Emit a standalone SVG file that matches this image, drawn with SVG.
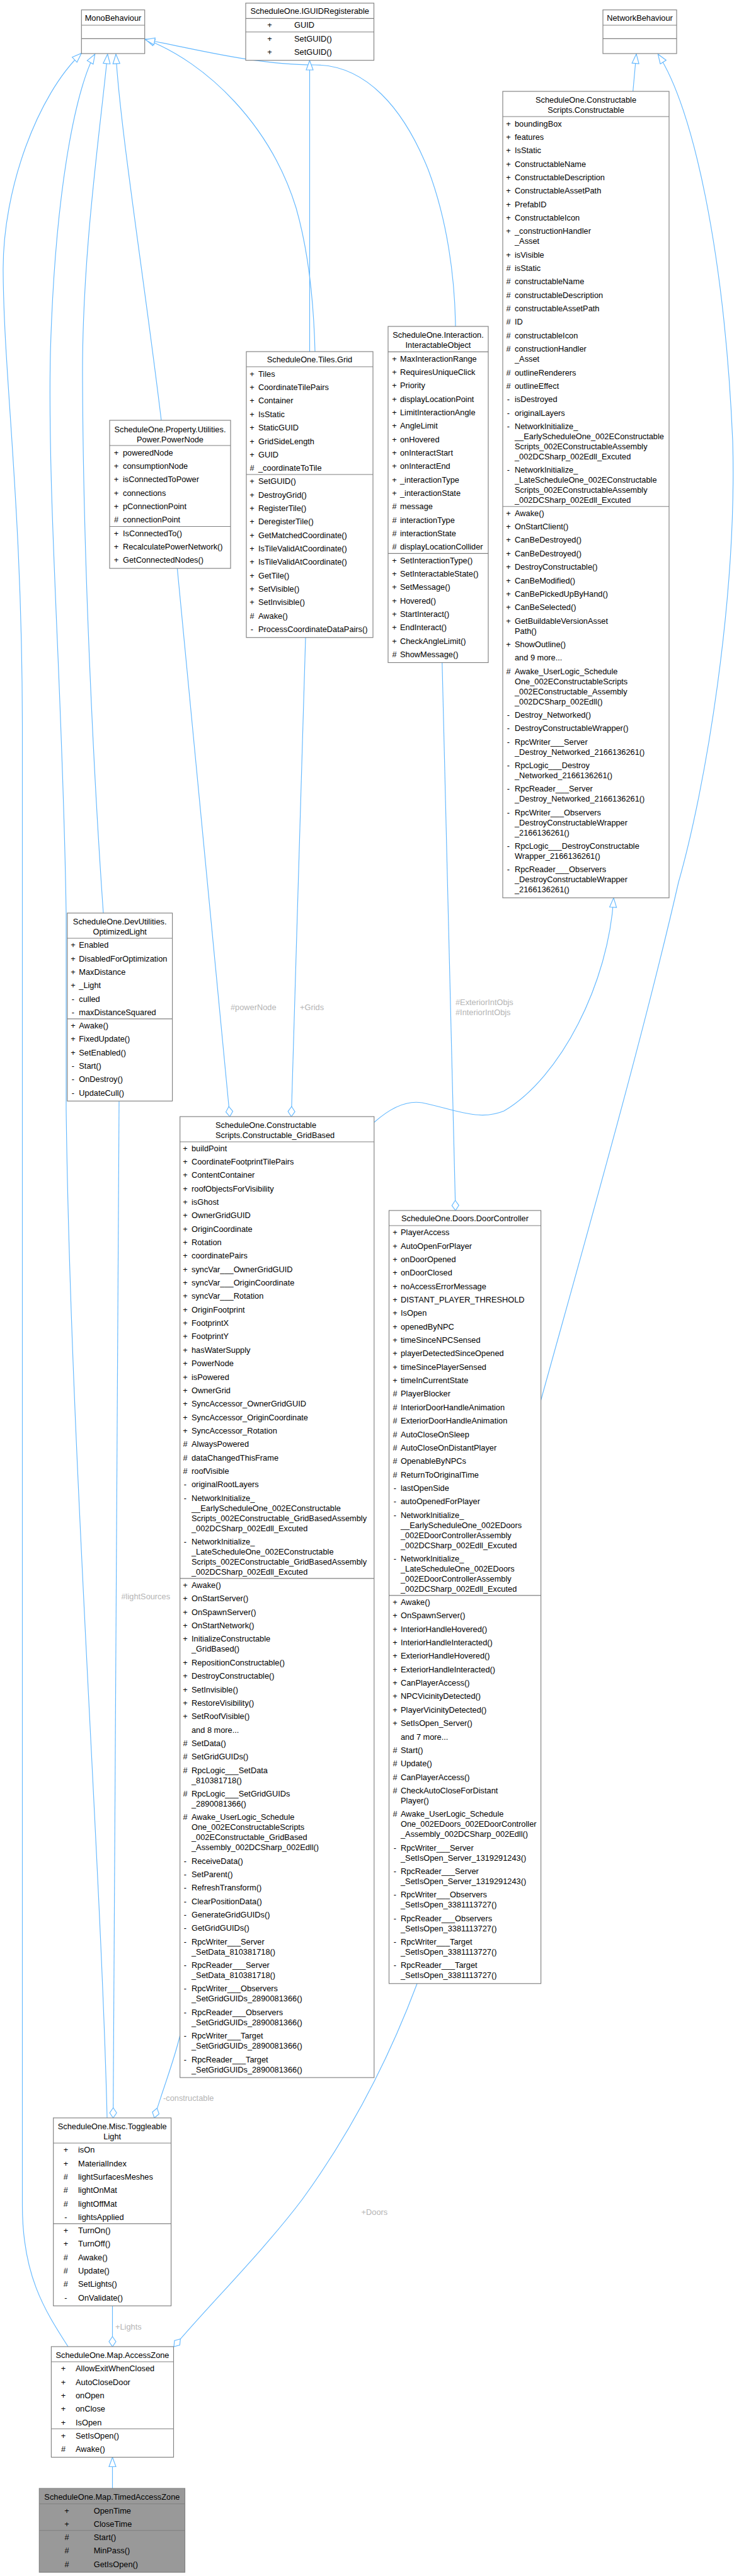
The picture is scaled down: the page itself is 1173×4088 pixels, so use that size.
<svg xmlns="http://www.w3.org/2000/svg" width="1173" height="4088" viewBox="0 0 1173 4088">
<style>
text{font-family:"Liberation Sans",Arial,Helvetica,sans-serif;font-size:12.8px;fill:#000}
.m{text-anchor:middle}
.box{fill:#fff;stroke:#808080;stroke-width:1.15}
.cur{fill:#999999;stroke:#808080;stroke-width:1.15}
.sep{stroke:#808080;stroke-width:1.15}
.e{fill:none;stroke:#63b8ff;stroke-width:1.15}
.inh{marker-start:url(#tri)}
.agg{marker-end:url(#dia)}
text.lbl{fill:#b4b4b4}
</style>
<defs>
<marker id="tri" markerUnits="userSpaceOnUse" markerWidth="17" markerHeight="13" viewBox="-1 -1 17 13" refX="15" refY="5.5" orient="auto-start-reverse"><path d="M0,0 L15,5.5 L0,11 Z" fill="#fff" stroke="#63b8ff" stroke-width="1.15"/></marker>
<marker id="dia" markerUnits="userSpaceOnUse" markerWidth="18" markerHeight="13" viewBox="-1 -1 18 13" refX="16" refY="5.5" orient="auto"><path d="M0,5.5 L8,0 L16,5.5 L8,11 Z" fill="#fff" stroke="#63b8ff" stroke-width="1.15"/></marker>
</defs>
<rect width="1173" height="4088" fill="#fff"/>

<g id="connectors">
<path class="e inh" d="M129.3,84.5 C60,150 4,300 5,430 C6,600 35,800 35.5,1150 L35.5,3500 C35.5,3610 70,3665 108,3724"/>
<path class="e inh" d="M150.7,86 C125,130 88,280 80,560 C75,800 100,1100 105,1450 L105,1760 C112,2300 160,2950 170,3361"/>
<path class="e inh" d="M170.7,86 C160,200 130,400 131,600 C132,900 150,1250 164,1449"/>
<path class="e inh" d="M184,86 C190,200 230,450 256,667"/>
<path class="e inh" d="M230.5,62 C330,100 430,200 470,330 C490,400 498,480 500,558"/>
<path class="e inh" d="M230.5,63 C300,75 400,103 500,103 C580,103 640,170 680,270 C710,350 722,440 723,518"/>
<path class="e inh" d="M491.5,96 L491.5,558"/>
<path class="e inh" d="M1010,85.7 L1004.7,145"/>
<path class="e inh" d="M1044.4,86 C1100,170 1150,400 1163,700 C1170,950 1120,1250 1077,1400 C1020,1650 920,2000 858.6,2222"/>
<path class="e inh" d="M974,1424.8 C966,1560 890,1710 800,1763 C760,1780 720,1760 670,1750 C640,1745 612,1765 594,1781"/>
<path class="e agg" d="M701.8,1052 L723,1921"/>
<path class="e agg" d="M281.4,902 L364.8,1772"/>
<path class="e agg" d="M485,1012 L462.4,1772"/>
<path class="e agg" d="M189,1748 L179.6,3361"/>
<path class="e agg" d="M285.7,3230 C276,3272 256,3322 245,3361"/>
<path class="e agg" d="M662,3148 C620,3260 560,3380 480,3490 C420,3570 330,3660 276,3724"/>
<path class="e agg" d="M178.5,3659.3 L178.5,3724"/>
<path class="e inh" d="M178.5,3899.5 L178.5,3949"/>
<text class="lbl" x="723" y="1594.5">#ExteriorIntObjs</text>
<text class="lbl" x="723" y="1610.5">#InteriorIntObjs</text>
<text class="lbl" x="366" y="1602.5">#powerNode</text>
<text class="lbl" x="476" y="1602.5">+Grids</text>
<text class="lbl" x="192.5" y="2538">#lightSources</text>
<text class="lbl" x="259" y="3334">-constructable</text>
<text class="lbl" x="573.6" y="3515">+Doors</text>
<text class="lbl" x="183" y="3696.5">+Lights</text>
</g>

<g id="n_monobehaviour">
<rect class="box" x="129.3" y="15.7" width="100.4" height="69.3"/>
<line class="sep" x1="129.3" y1="40" x2="229.7" y2="40"/>
<line class="sep" x1="129.3" y1="61.4" x2="229.7" y2="61.4"/>
<text class="m" x="179.5" y="32.5">MonoBehaviour</text>
</g>

<g id="n_iguidregisterable">
<rect class="box" x="390" y="5" width="203.5" height="90.7"/>
<line class="sep" x1="390" y1="29.3" x2="593.5" y2="29.3"/>
<line class="sep" x1="390" y1="50.7" x2="593.5" y2="50.7"/>
<text class="m" x="491.7" y="22">ScheduleOne.IGUIDRegisterable</text>
<text class="m" x="428" y="43.5">+</text><text x="467" y="43.5">GUID</text>
<text class="m" x="428" y="65.5">+</text><text x="467" y="65.5">SetGUID()</text>
<text class="m" x="428" y="87">+</text><text x="467" y="87">SetGUID()</text>
</g>

<g id="n_networkbehaviour">
<rect class="box" x="957" y="15.7" width="117" height="69.3"/>
<line class="sep" x1="957" y1="40" x2="1074" y2="40"/>
<line class="sep" x1="957" y1="61.4" x2="1074" y2="61.4"/>
<text class="m" x="1015.5" y="32.5">NetworkBehaviour</text>
</g>

<g id="n_constructable">
<rect class="box" x="798" y="145" width="264" height="1279.8"/>
<line class="sep" x1="798" y1="185" x2="1062" y2="185"/>
<line class="sep" x1="798" y1="803.7" x2="1062" y2="803.7"/>
<text class="m" x="930" y="162.5">ScheduleOne.Constructable</text>
<text class="m" x="930" y="178.5">Scripts.Constructable</text>
<text class="m" x="807" y="200.5">+</text><text x="817" y="200.5">boundingBox</text>
<text class="m" x="807" y="221.9">+</text><text x="817" y="221.9">features</text>
<text class="m" x="807" y="243.2">+</text><text x="817" y="243.2">IsStatic</text>
<text class="m" x="807" y="264.6">+</text><text x="817" y="264.6">ConstructableName</text>
<text class="m" x="807" y="285.9">+</text><text x="817" y="285.9">ConstructableDescription</text>
<text class="m" x="807" y="307.3">+</text><text x="817" y="307.3">ConstructableAssetPath</text>
<text class="m" x="807" y="328.6">+</text><text x="817" y="328.6">PrefabID</text>
<text class="m" x="807" y="350">+</text><text x="817" y="350">ConstructableIcon</text>
<text class="m" x="807" y="371.3">+</text><text x="817" y="371.3">_constructionHandler</text><text x="817" y="387.3">_Asset</text>
<text class="m" x="807" y="408.7">+</text><text x="817" y="408.7">isVisible</text>
<text class="m" x="807" y="430">#</text><text x="817" y="430">isStatic</text>
<text class="m" x="807" y="451.4">#</text><text x="817" y="451.4">constructableName</text>
<text class="m" x="807" y="472.7">#</text><text x="817" y="472.7">constructableDescription</text>
<text class="m" x="807" y="494.1">#</text><text x="817" y="494.1">constructableAssetPath</text>
<text class="m" x="807" y="515.4">#</text><text x="817" y="515.4">ID</text>
<text class="m" x="807" y="536.8">#</text><text x="817" y="536.8">constructableIcon</text>
<text class="m" x="807" y="558.1">#</text><text x="817" y="558.1">constructionHandler</text><text x="817" y="574.1">_Asset</text>
<text class="m" x="807" y="595.5">#</text><text x="817" y="595.5">outlineRenderers</text>
<text class="m" x="807" y="616.8">#</text><text x="817" y="616.8">outlineEffect</text>
<text class="m" x="807" y="638.2">-</text><text x="817" y="638.2">isDestroyed</text>
<text class="m" x="807" y="659.5">-</text><text x="817" y="659.5">originalLayers</text>
<text class="m" x="807" y="680.9">-</text><text x="817" y="680.9">NetworkInitialize_</text><text x="817" y="696.9">__EarlyScheduleOne_002EConstructable</text><text x="817" y="712.9">Scripts_002EConstructableAssembly</text><text x="817" y="728.9">_002DCSharp_002Edll_Excuted</text>
<text class="m" x="807" y="750.2">-</text><text x="817" y="750.2">NetworkInitialize_</text><text x="817" y="766.2">_LateScheduleOne_002EConstructable</text><text x="817" y="782.2">Scripts_002EConstructableAssembly</text><text x="817" y="798.2">_002DCSharp_002Edll_Excuted</text>
<text class="m" x="807" y="818.7">+</text><text x="817" y="818.7">Awake()</text>
<text class="m" x="807" y="840.1">+</text><text x="817" y="840.1">OnStartClient()</text>
<text class="m" x="807" y="861.4">+</text><text x="817" y="861.4">CanBeDestroyed()</text>
<text class="m" x="807" y="882.8">+</text><text x="817" y="882.8">CanBeDestroyed()</text>
<text class="m" x="807" y="904.1">+</text><text x="817" y="904.1">DestroyConstructable()</text>
<text class="m" x="807" y="925.5">+</text><text x="817" y="925.5">CanBeModified()</text>
<text class="m" x="807" y="946.8">+</text><text x="817" y="946.8">CanBePickedUpByHand()</text>
<text class="m" x="807" y="968.2">+</text><text x="817" y="968.2">CanBeSelected()</text>
<text class="m" x="807" y="989.5">+</text><text x="817" y="989.5">GetBuildableVersionAsset</text><text x="817" y="1005.5">Path()</text>
<text class="m" x="807" y="1026.9">+</text><text x="817" y="1026.9">ShowOutline()</text>
<text x="817" y="1048.2">and 9 more...</text>
<text class="m" x="807" y="1069.6">#</text><text x="817" y="1069.6">Awake_UserLogic_Schedule</text><text x="817" y="1085.6">One_002EConstructableScripts</text><text x="817" y="1101.6">_002EConstructable_Assembly</text><text x="817" y="1117.6">_002DCSharp_002Edll()</text>
<text class="m" x="807" y="1138.9">-</text><text x="817" y="1138.9">Destroy_Networked()</text>
<text class="m" x="807" y="1160.3">-</text><text x="817" y="1160.3">DestroyConstructableWrapper()</text>
<text class="m" x="807" y="1181.6">-</text><text x="817" y="1181.6">RpcWriter___Server</text><text x="817" y="1197.6">_Destroy_Networked_2166136261()</text>
<text class="m" x="807" y="1219">-</text><text x="817" y="1219">RpcLogic___Destroy</text><text x="817" y="1235">_Networked_2166136261()</text>
<text class="m" x="807" y="1256.3">-</text><text x="817" y="1256.3">RpcReader___Server</text><text x="817" y="1272.3">_Destroy_Networked_2166136261()</text>
<text class="m" x="807" y="1293.7">-</text><text x="817" y="1293.7">RpcWriter___Observers</text><text x="817" y="1309.7">_DestroyConstructableWrapper</text><text x="817" y="1325.7">_2166136261()</text>
<text class="m" x="807" y="1347">-</text><text x="817" y="1347">RpcLogic___DestroyConstructable</text><text x="817" y="1363">Wrapper_2166136261()</text>
<text class="m" x="807" y="1384.4">-</text><text x="817" y="1384.4">RpcReader___Observers</text><text x="817" y="1400.4">_DestroyConstructableWrapper</text><text x="817" y="1416.4">_2166136261()</text>
</g>

<g id="n_powernode">
<rect class="box" x="174" y="667" width="192" height="235"/>
<line class="sep" x1="174" y1="707" x2="366" y2="707"/>
<line class="sep" x1="174" y1="835.5" x2="366" y2="835.5"/>
<text class="m" x="270" y="686">ScheduleOne.Property.Utilities.</text>
<text class="m" x="270" y="701.5">Power.PowerNode</text>
<text class="m" x="184.5" y="722.5">+</text><text x="195" y="722.5">poweredNode</text>
<text class="m" x="184.5" y="743.9">+</text><text x="195" y="743.9">consumptionNode</text>
<text class="m" x="184.5" y="765.2">+</text><text x="195" y="765.2">isConnectedToPower</text>
<text class="m" x="184.5" y="786.6">+</text><text x="195" y="786.6">connections</text>
<text class="m" x="184.5" y="807.9">+</text><text x="195" y="807.9">pConnectionPoint</text>
<text class="m" x="184.5" y="829.3">#</text><text x="195" y="829.3">connectionPoint</text>
<text class="m" x="184.5" y="850.5">+</text><text x="195" y="850.5">IsConnectedTo()</text>
<text class="m" x="184.5" y="871.9">+</text><text x="195" y="871.9">RecalculatePowerNetwork()</text>
<text class="m" x="184.5" y="893.2">+</text><text x="195" y="893.2">GetConnectedNodes()</text>
</g>

<g id="n_grid">
<rect class="box" x="391" y="558" width="201" height="453.7"/>
<line class="sep" x1="391" y1="582" x2="592" y2="582"/>
<line class="sep" x1="391" y1="753" x2="592" y2="753"/>
<text class="m" x="491.5" y="575">ScheduleOne.Tiles.Grid</text>
<text class="m" x="400" y="597.7">+</text><text x="410" y="597.7">Tiles</text>
<text class="m" x="400" y="619.1">+</text><text x="410" y="619.1">CoordinateTilePairs</text>
<text class="m" x="400" y="640.4">+</text><text x="410" y="640.4">Container</text>
<text class="m" x="400" y="661.8">+</text><text x="410" y="661.8">IsStatic</text>
<text class="m" x="400" y="683.1">+</text><text x="410" y="683.1">StaticGUID</text>
<text class="m" x="400" y="704.5">+</text><text x="410" y="704.5">GridSideLength</text>
<text class="m" x="400" y="725.8">+</text><text x="410" y="725.8">GUID</text>
<text class="m" x="400" y="747.2">#</text><text x="410" y="747.2">_coordinateToTile</text>
<text class="m" x="400" y="768.1">+</text><text x="410" y="768.1">SetGUID()</text>
<text class="m" x="400" y="789.5">+</text><text x="410" y="789.5">DestroyGrid()</text>
<text class="m" x="400" y="810.8">+</text><text x="410" y="810.8">RegisterTile()</text>
<text class="m" x="400" y="832.2">+</text><text x="410" y="832.2">DeregisterTile()</text>
<text class="m" x="400" y="853.5">+</text><text x="410" y="853.5">GetMatchedCoordinate()</text>
<text class="m" x="400" y="874.9">+</text><text x="410" y="874.9">IsTileValidAtCoordinate()</text>
<text class="m" x="400" y="896.2">+</text><text x="410" y="896.2">IsTileValidAtCoordinate()</text>
<text class="m" x="400" y="917.6">+</text><text x="410" y="917.6">GetTile()</text>
<text class="m" x="400" y="938.9">+</text><text x="410" y="938.9">SetVisible()</text>
<text class="m" x="400" y="960.3">+</text><text x="410" y="960.3">SetInvisible()</text>
<text class="m" x="400" y="981.6">#</text><text x="410" y="981.6">Awake()</text>
<text class="m" x="400" y="1003">-</text><text x="410" y="1003">ProcessCoordinateDataPairs()</text>
</g>

<g id="n_interactableobject">
<rect class="box" x="616" y="518" width="159" height="533.5"/>
<line class="sep" x1="616" y1="558.3" x2="775" y2="558.3"/>
<line class="sep" x1="616" y1="878.3" x2="775" y2="878.3"/>
<text class="m" x="695.5" y="535.5">ScheduleOne.Interaction.</text>
<text class="m" x="695.5" y="551.5">InteractableObject</text>
<text class="m" x="626" y="573.5">+</text><text x="635" y="573.5">MaxInteractionRange</text>
<text class="m" x="626" y="594.9">+</text><text x="635" y="594.9">RequiresUniqueClick</text>
<text class="m" x="626" y="616.2">+</text><text x="635" y="616.2">Priority</text>
<text class="m" x="626" y="637.6">+</text><text x="635" y="637.6">displayLocationPoint</text>
<text class="m" x="626" y="658.9">+</text><text x="635" y="658.9">LimitInteractionAngle</text>
<text class="m" x="626" y="680.3">+</text><text x="635" y="680.3">AngleLimit</text>
<text class="m" x="626" y="701.6">+</text><text x="635" y="701.6">onHovered</text>
<text class="m" x="626" y="723">+</text><text x="635" y="723">onInteractStart</text>
<text class="m" x="626" y="744.3">+</text><text x="635" y="744.3">onInteractEnd</text>
<text class="m" x="626" y="765.7">+</text><text x="635" y="765.7">_interactionType</text>
<text class="m" x="626" y="787">+</text><text x="635" y="787">_interactionState</text>
<text class="m" x="626" y="808.4">#</text><text x="635" y="808.4">message</text>
<text class="m" x="626" y="829.7">#</text><text x="635" y="829.7">interactionType</text>
<text class="m" x="626" y="851.1">#</text><text x="635" y="851.1">interactionState</text>
<text class="m" x="626" y="872.4">#</text><text x="635" y="872.4">displayLocationCollider</text>
<text class="m" x="626" y="893.5">+</text><text x="635" y="893.5">SetInteractionType()</text>
<text class="m" x="626" y="914.9">+</text><text x="635" y="914.9">SetInteractableState()</text>
<text class="m" x="626" y="936.2">+</text><text x="635" y="936.2">SetMessage()</text>
<text class="m" x="626" y="957.6">+</text><text x="635" y="957.6">Hovered()</text>
<text class="m" x="626" y="978.9">+</text><text x="635" y="978.9">StartInteract()</text>
<text class="m" x="626" y="1000.3">+</text><text x="635" y="1000.3">EndInteract()</text>
<text class="m" x="626" y="1021.6">+</text><text x="635" y="1021.6">CheckAngleLimit()</text>
<text class="m" x="626" y="1043">#</text><text x="635" y="1043">ShowMessage()</text>
</g>

<g id="n_optimizedlight">
<rect class="box" x="106.8" y="1449" width="166.8" height="298.3"/>
<line class="sep" x1="106.8" y1="1489" x2="273.6" y2="1489"/>
<line class="sep" x1="106.8" y1="1616.8" x2="273.6" y2="1616.8"/>
<text class="m" x="190.2" y="1466.5">ScheduleOne.DevUtilities.</text>
<text class="m" x="190.2" y="1482.5">OptimizedLight</text>
<text class="m" x="116" y="1504.2">+</text><text x="125.3" y="1504.2">Enabled</text>
<text class="m" x="116" y="1525.6">+</text><text x="125.3" y="1525.6">DisabledForOptimization</text>
<text class="m" x="116" y="1546.9">+</text><text x="125.3" y="1546.9">MaxDistance</text>
<text class="m" x="116" y="1568.3">+</text><text x="125.3" y="1568.3">_Light</text>
<text class="m" x="116" y="1589.6">-</text><text x="125.3" y="1589.6">culled</text>
<text class="m" x="116" y="1611">-</text><text x="125.3" y="1611">maxDistanceSquared</text>
<text class="m" x="116" y="1632">+</text><text x="125.3" y="1632">Awake()</text>
<text class="m" x="116" y="1653.4">+</text><text x="125.3" y="1653.4">FixedUpdate()</text>
<text class="m" x="116" y="1674.7">+</text><text x="125.3" y="1674.7">SetEnabled()</text>
<text class="m" x="116" y="1696.1">-</text><text x="125.3" y="1696.1">Start()</text>
<text class="m" x="116" y="1717.4">-</text><text x="125.3" y="1717.4">OnDestroy()</text>
<text class="m" x="116" y="1738.8">-</text><text x="125.3" y="1738.8">UpdateCull()</text>
</g>

<g id="n_constructable_gridbased">
<rect class="box" x="285.7" y="1772" width="308.1" height="1525"/>
<line class="sep" x1="285.7" y1="1812" x2="593.8" y2="1812"/>
<line class="sep" x1="285.7" y1="2504.8" x2="593.8" y2="2504.8"/>
<text x="342" y="1789.5">ScheduleOne.Constructable</text>
<text x="342" y="1805.5">Scripts.Constructable_GridBased</text>
<text class="m" x="294" y="1826.5">+</text><text x="304" y="1826.5">buildPoint</text>
<text class="m" x="294" y="1847.9">+</text><text x="304" y="1847.9">CoordinateFootprintTilePairs</text>
<text class="m" x="294" y="1869.2">+</text><text x="304" y="1869.2">ContentContainer</text>
<text class="m" x="294" y="1890.6">+</text><text x="304" y="1890.6">roofObjectsForVisibility</text>
<text class="m" x="294" y="1911.9">+</text><text x="304" y="1911.9">isGhost</text>
<text class="m" x="294" y="1933.3">+</text><text x="304" y="1933.3">OwnerGridGUID</text>
<text class="m" x="294" y="1954.6">+</text><text x="304" y="1954.6">OriginCoordinate</text>
<text class="m" x="294" y="1976">+</text><text x="304" y="1976">Rotation</text>
<text class="m" x="294" y="1997.3">+</text><text x="304" y="1997.3">coordinatePairs</text>
<text class="m" x="294" y="2018.7">+</text><text x="304" y="2018.7">syncVar___OwnerGridGUID</text>
<text class="m" x="294" y="2040">+</text><text x="304" y="2040">syncVar___OriginCoordinate</text>
<text class="m" x="294" y="2061.4">+</text><text x="304" y="2061.4">syncVar___Rotation</text>
<text class="m" x="294" y="2082.7">+</text><text x="304" y="2082.7">OriginFootprint</text>
<text class="m" x="294" y="2104.1">+</text><text x="304" y="2104.1">FootprintX</text>
<text class="m" x="294" y="2125.4">+</text><text x="304" y="2125.4">FootprintY</text>
<text class="m" x="294" y="2146.8">+</text><text x="304" y="2146.8">hasWaterSupply</text>
<text class="m" x="294" y="2168.1">+</text><text x="304" y="2168.1">PowerNode</text>
<text class="m" x="294" y="2189.5">+</text><text x="304" y="2189.5">isPowered</text>
<text class="m" x="294" y="2210.8">+</text><text x="304" y="2210.8">OwnerGrid</text>
<text class="m" x="294" y="2232.2">+</text><text x="304" y="2232.2">SyncAccessor_OwnerGridGUID</text>
<text class="m" x="294" y="2253.5">+</text><text x="304" y="2253.5">SyncAccessor_OriginCoordinate</text>
<text class="m" x="294" y="2274.9">+</text><text x="304" y="2274.9">SyncAccessor_Rotation</text>
<text class="m" x="294" y="2296.2">#</text><text x="304" y="2296.2">AlwaysPowered</text>
<text class="m" x="294" y="2317.6">#</text><text x="304" y="2317.6">dataChangedThisFrame</text>
<text class="m" x="294" y="2338.9">#</text><text x="304" y="2338.9">roofVisible</text>
<text class="m" x="294" y="2360.3">-</text><text x="304" y="2360.3">originalRootLayers</text>
<text class="m" x="294" y="2381.6">-</text><text x="304" y="2381.6">NetworkInitialize_</text><text x="304" y="2397.6">__EarlyScheduleOne_002EConstructable</text><text x="304" y="2413.6">Scripts_002EConstructable_GridBasedAssembly</text><text x="304" y="2429.6">_002DCSharp_002Edll_Excuted</text>
<text class="m" x="294" y="2451">-</text><text x="304" y="2451">NetworkInitialize_</text><text x="304" y="2467">_LateScheduleOne_002EConstructable</text><text x="304" y="2483">Scripts_002EConstructable_GridBasedAssembly</text><text x="304" y="2499">_002DCSharp_002Edll_Excuted</text>
<text class="m" x="294" y="2520">+</text><text x="304" y="2520">Awake()</text>
<text class="m" x="294" y="2541.4">+</text><text x="304" y="2541.4">OnStartServer()</text>
<text class="m" x="294" y="2562.7">+</text><text x="304" y="2562.7">OnSpawnServer()</text>
<text class="m" x="294" y="2584.1">+</text><text x="304" y="2584.1">OnStartNetwork()</text>
<text class="m" x="294" y="2605.4">+</text><text x="304" y="2605.4">InitializeConstructable</text><text x="304" y="2621.4">_GridBased()</text>
<text class="m" x="294" y="2642.8">+</text><text x="304" y="2642.8">RepositionConstructable()</text>
<text class="m" x="294" y="2664.1">+</text><text x="304" y="2664.1">DestroyConstructable()</text>
<text class="m" x="294" y="2685.5">+</text><text x="304" y="2685.5">SetInvisible()</text>
<text class="m" x="294" y="2706.8">+</text><text x="304" y="2706.8">RestoreVisibility()</text>
<text class="m" x="294" y="2728.2">+</text><text x="304" y="2728.2">SetRoofVisible()</text>
<text x="304" y="2749.5">and 8 more...</text>
<text class="m" x="294" y="2770.9">#</text><text x="304" y="2770.9">SetData()</text>
<text class="m" x="294" y="2792.2">#</text><text x="304" y="2792.2">SetGridGUIDs()</text>
<text class="m" x="294" y="2813.6">#</text><text x="304" y="2813.6">RpcLogic___SetData</text><text x="304" y="2829.6">_810381718()</text>
<text class="m" x="294" y="2850.9">#</text><text x="304" y="2850.9">RpcLogic___SetGridGUIDs</text><text x="304" y="2866.9">_2890081366()</text>
<text class="m" x="294" y="2888.3">#</text><text x="304" y="2888.3">Awake_UserLogic_Schedule</text><text x="304" y="2904.3">One_002EConstructableScripts</text><text x="304" y="2920.3">_002EConstructable_GridBased</text><text x="304" y="2936.3">_Assembly_002DCSharp_002Edll()</text>
<text class="m" x="294" y="2957.6">-</text><text x="304" y="2957.6">ReceiveData()</text>
<text class="m" x="294" y="2979">-</text><text x="304" y="2979">SetParent()</text>
<text class="m" x="294" y="3000.3">-</text><text x="304" y="3000.3">RefreshTransform()</text>
<text class="m" x="294" y="3021.7">-</text><text x="304" y="3021.7">ClearPositionData()</text>
<text class="m" x="294" y="3043">-</text><text x="304" y="3043">GenerateGridGUIDs()</text>
<text class="m" x="294" y="3064.4">-</text><text x="304" y="3064.4">GetGridGUIDs()</text>
<text class="m" x="294" y="3085.7">-</text><text x="304" y="3085.7">RpcWriter___Server</text><text x="304" y="3101.7">_SetData_810381718()</text>
<text class="m" x="294" y="3123.1">-</text><text x="304" y="3123.1">RpcReader___Server</text><text x="304" y="3139.1">_SetData_810381718()</text>
<text class="m" x="294" y="3160.4">-</text><text x="304" y="3160.4">RpcWriter___Observers</text><text x="304" y="3176.4">_SetGridGUIDs_2890081366()</text>
<text class="m" x="294" y="3197.8">-</text><text x="304" y="3197.8">RpcReader___Observers</text><text x="304" y="3213.8">_SetGridGUIDs_2890081366()</text>
<text class="m" x="294" y="3235.1">-</text><text x="304" y="3235.1">RpcWriter___Target</text><text x="304" y="3251.1">_SetGridGUIDs_2890081366()</text>
<text class="m" x="294" y="3272.5">-</text><text x="304" y="3272.5">RpcReader___Target</text><text x="304" y="3288.5">_SetGridGUIDs_2890081366()</text>
</g>

<g id="n_doorcontroller">
<rect class="box" x="617.5" y="1921" width="241.1" height="1226.8"/>
<line class="sep" x1="617.5" y1="1945" x2="858.6" y2="1945"/>
<line class="sep" x1="617.5" y1="2531.8" x2="858.6" y2="2531.8"/>
<text class="m" x="738" y="1938.2">ScheduleOne.Doors.DoorController</text>
<text class="m" x="627" y="1960.2">+</text><text x="636" y="1960.2">PlayerAccess</text>
<text class="m" x="627" y="1981.6">+</text><text x="636" y="1981.6">AutoOpenForPlayer</text>
<text class="m" x="627" y="2002.9">+</text><text x="636" y="2002.9">onDoorOpened</text>
<text class="m" x="627" y="2024.3">+</text><text x="636" y="2024.3">onDoorClosed</text>
<text class="m" x="627" y="2045.6">+</text><text x="636" y="2045.6">noAccessErrorMessage</text>
<text class="m" x="627" y="2067">+</text><text x="636" y="2067">DISTANT_PLAYER_THRESHOLD</text>
<text class="m" x="627" y="2088.3">+</text><text x="636" y="2088.3">IsOpen</text>
<text class="m" x="627" y="2109.7">+</text><text x="636" y="2109.7">openedByNPC</text>
<text class="m" x="627" y="2131">+</text><text x="636" y="2131">timeSinceNPCSensed</text>
<text class="m" x="627" y="2152.4">+</text><text x="636" y="2152.4">playerDetectedSinceOpened</text>
<text class="m" x="627" y="2173.7">+</text><text x="636" y="2173.7">timeSincePlayerSensed</text>
<text class="m" x="627" y="2195.1">+</text><text x="636" y="2195.1">timeInCurrentState</text>
<text class="m" x="627" y="2216.4">#</text><text x="636" y="2216.4">PlayerBlocker</text>
<text class="m" x="627" y="2237.8">#</text><text x="636" y="2237.8">InteriorDoorHandleAnimation</text>
<text class="m" x="627" y="2259.1">#</text><text x="636" y="2259.1">ExteriorDoorHandleAnimation</text>
<text class="m" x="627" y="2280.5">#</text><text x="636" y="2280.5">AutoCloseOnSleep</text>
<text class="m" x="627" y="2301.8">#</text><text x="636" y="2301.8">AutoCloseOnDistantPlayer</text>
<text class="m" x="627" y="2323.2">#</text><text x="636" y="2323.2">OpenableByNPCs</text>
<text class="m" x="627" y="2344.5">#</text><text x="636" y="2344.5">ReturnToOriginalTime</text>
<text class="m" x="627" y="2365.9">-</text><text x="636" y="2365.9">lastOpenSide</text>
<text class="m" x="627" y="2387.2">-</text><text x="636" y="2387.2">autoOpenedForPlayer</text>
<text class="m" x="627" y="2408.6">-</text><text x="636" y="2408.6">NetworkInitialize_</text><text x="636" y="2424.6">__EarlyScheduleOne_002EDoors</text><text x="636" y="2440.6">_002EDoorControllerAssembly</text><text x="636" y="2456.6">_002DCSharp_002Edll_Excuted</text>
<text class="m" x="627" y="2477.9">-</text><text x="636" y="2477.9">NetworkInitialize_</text><text x="636" y="2493.9">_LateScheduleOne_002EDoors</text><text x="636" y="2509.9">_002EDoorControllerAssembly</text><text x="636" y="2525.9">_002DCSharp_002Edll_Excuted</text>
<text class="m" x="627" y="2547">+</text><text x="636" y="2547">Awake()</text>
<text class="m" x="627" y="2568.3">+</text><text x="636" y="2568.3">OnSpawnServer()</text>
<text class="m" x="627" y="2589.7">+</text><text x="636" y="2589.7">InteriorHandleHovered()</text>
<text class="m" x="627" y="2611">+</text><text x="636" y="2611">InteriorHandleInteracted()</text>
<text class="m" x="627" y="2632.4">+</text><text x="636" y="2632.4">ExteriorHandleHovered()</text>
<text class="m" x="627" y="2653.7">+</text><text x="636" y="2653.7">ExteriorHandleInteracted()</text>
<text class="m" x="627" y="2675.1">+</text><text x="636" y="2675.1">CanPlayerAccess()</text>
<text class="m" x="627" y="2696.4">+</text><text x="636" y="2696.4">NPCVicinityDetected()</text>
<text class="m" x="627" y="2717.8">+</text><text x="636" y="2717.8">PlayerVicinityDetected()</text>
<text class="m" x="627" y="2739.1">+</text><text x="636" y="2739.1">SetIsOpen_Server()</text>
<text x="636" y="2760.5">and 7 more...</text>
<text class="m" x="627" y="2781.8">#</text><text x="636" y="2781.8">Start()</text>
<text class="m" x="627" y="2803.2">#</text><text x="636" y="2803.2">Update()</text>
<text class="m" x="627" y="2824.5">#</text><text x="636" y="2824.5">CanPlayerAccess()</text>
<text class="m" x="627" y="2845.9">#</text><text x="636" y="2845.9">CheckAutoCloseForDistant</text><text x="636" y="2861.9">Player()</text>
<text class="m" x="627" y="2883.2">#</text><text x="636" y="2883.2">Awake_UserLogic_Schedule</text><text x="636" y="2899.2">One_002EDoors_002EDoorController</text><text x="636" y="2915.2">_Assembly_002DCSharp_002Edll()</text>
<text class="m" x="627" y="2936.6">-</text><text x="636" y="2936.6">RpcWriter___Server</text><text x="636" y="2952.6">_SetIsOpen_Server_1319291243()</text>
<text class="m" x="627" y="2973.9">-</text><text x="636" y="2973.9">RpcReader___Server</text><text x="636" y="2989.9">_SetIsOpen_Server_1319291243()</text>
<text class="m" x="627" y="3011.3">-</text><text x="636" y="3011.3">RpcWriter___Observers</text><text x="636" y="3027.3">_SetIsOpen_3381113727()</text>
<text class="m" x="627" y="3048.6">-</text><text x="636" y="3048.6">RpcReader___Observers</text><text x="636" y="3064.6">_SetIsOpen_3381113727()</text>
<text class="m" x="627" y="3086">-</text><text x="636" y="3086">RpcWriter___Target</text><text x="636" y="3102">_SetIsOpen_3381113727()</text>
<text class="m" x="627" y="3123.3">-</text><text x="636" y="3123.3">RpcReader___Target</text><text x="636" y="3139.3">_SetIsOpen_3381113727()</text>
</g>

<g id="n_toggleablelight">
<rect class="box" x="84.7" y="3361" width="186.9" height="298.3"/>
<line class="sep" x1="84.7" y1="3401" x2="271.6" y2="3401"/>
<line class="sep" x1="84.7" y1="3528.8" x2="271.6" y2="3528.8"/>
<text class="m" x="178.2" y="3378.5">ScheduleOne.Misc.Toggleable</text>
<text class="m" x="178.2" y="3395">Light</text>
<text class="m" x="104.4" y="3416.2">+</text><text x="124" y="3416.2">isOn</text>
<text class="m" x="104.4" y="3437.6">+</text><text x="124" y="3437.6">MaterialIndex</text>
<text class="m" x="104.4" y="3458.9">#</text><text x="124" y="3458.9">lightSurfacesMeshes</text>
<text class="m" x="104.4" y="3480.3">#</text><text x="124" y="3480.3">lightOnMat</text>
<text class="m" x="104.4" y="3501.6">#</text><text x="124" y="3501.6">lightOffMat</text>
<text class="m" x="104.4" y="3523">-</text><text x="124" y="3523">lightsApplied</text>
<text class="m" x="104.4" y="3544">+</text><text x="124" y="3544">TurnOn()</text>
<text class="m" x="104.4" y="3565.4">+</text><text x="124" y="3565.4">TurnOff()</text>
<text class="m" x="104.4" y="3586.7">#</text><text x="124" y="3586.7">Awake()</text>
<text class="m" x="104.4" y="3608.1">#</text><text x="124" y="3608.1">Update()</text>
<text class="m" x="104.4" y="3629.4">#</text><text x="124" y="3629.4">SetLights()</text>
<text class="m" x="104.4" y="3650.8">-</text><text x="124" y="3650.8">OnValidate()</text>
</g>

<g id="n_accesszone">
<rect class="box" x="81.4" y="3724" width="194.1" height="175.5"/>
<line class="sep" x1="81.4" y1="3748" x2="275.5" y2="3748"/>
<line class="sep" x1="81.4" y1="3854.5" x2="275.5" y2="3854.5"/>
<text class="m" x="178.5" y="3741.5">ScheduleOne.Map.AccessZone</text>
<text class="m" x="100.5" y="3763.2">+</text><text x="120" y="3763.2">AllowExitWhenClosed</text>
<text class="m" x="100.5" y="3784.6">+</text><text x="120" y="3784.6">AutoCloseDoor</text>
<text class="m" x="100.5" y="3805.9">+</text><text x="120" y="3805.9">onOpen</text>
<text class="m" x="100.5" y="3827.3">+</text><text x="120" y="3827.3">onClose</text>
<text class="m" x="100.5" y="3848.6">+</text><text x="120" y="3848.6">IsOpen</text>
<text class="m" x="100.5" y="3869.7">+</text><text x="120" y="3869.7">SetIsOpen()</text>
<text class="m" x="100.5" y="3891">#</text><text x="120" y="3891">Awake()</text>
</g>

<g id="n_timedaccesszone">
<rect class="cur" x="62.3" y="3949" width="231.2" height="133.1"/>
<line class="sep" x1="62.3" y1="3973.5" x2="293.5" y2="3973.5"/>
<line class="sep" x1="62.3" y1="4015.7" x2="293.5" y2="4015.7"/>
<text class="m" x="177.9" y="3966.5">ScheduleOne.Map.TimedAccessZone</text>
<text class="m" x="106" y="3988.5">+</text><text x="148.7" y="3988.5">OpenTime</text>
<text class="m" x="106" y="4009.9">+</text><text x="148.7" y="4009.9">CloseTime</text>
<text class="m" x="106" y="4030.9">#</text><text x="148.7" y="4030.9">Start()</text>
<text class="m" x="106" y="4052.3">#</text><text x="148.7" y="4052.3">MinPass()</text>
<text class="m" x="106" y="4073.6">#</text><text x="148.7" y="4073.6">GetIsOpen()</text>
</g>
</svg>
